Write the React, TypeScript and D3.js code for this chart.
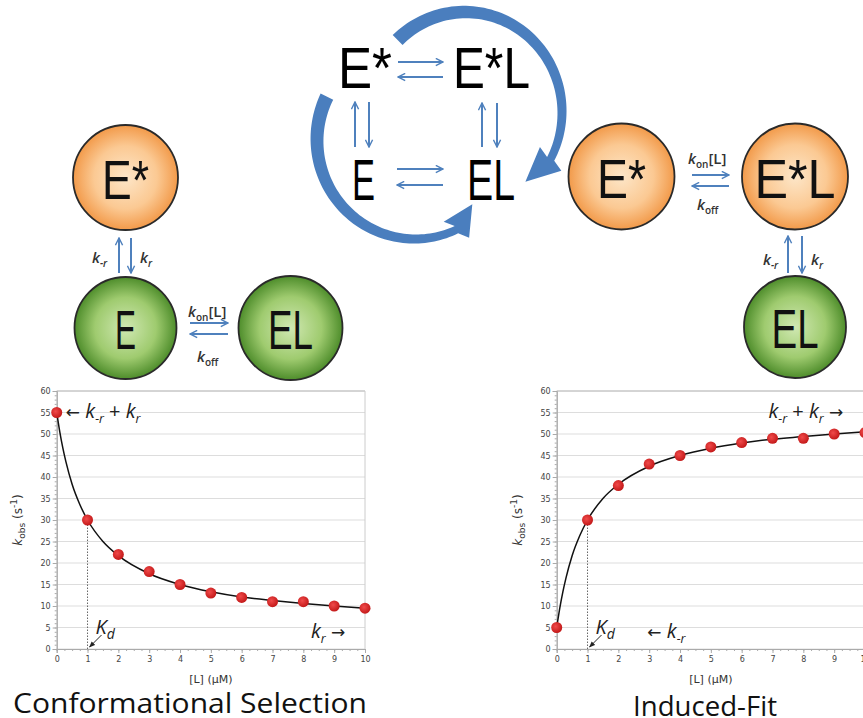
import React, { useEffect, useRef } from "react";
import * as d3 from "d3";

// ligand concentration [L] (µM) and observed rates k_obs (s^-1)
const concentrations = [0, 1, 2, 3, 4, 5, 6, 7, 8, 9, 10];
const selectionRates = [55, 30, 22, 18, 15, 13, 12, 11, 11, 10, 9.5];
const inducedRates = [5, 30, 38, 43, 45, 47, 48, 49, 49, 50, 50.3];

// fitted curves
const fitConcentrations = [0, 0.1, 0.2, 0.3, 0.5, 0.75, 1, 1.5, 2, 3, 4, 5, 6, 7, 8, 9, 10];
const selectionFit = [55, 50.5, 46.7, 43.5, 38.3, 33.6, 30, 25, 21.7, 17.5, 15, 13.3, 12.1, 11.3, 10.6, 10, 9.5];
const inducedFit = [5, 9.5, 13.3, 16.5, 21.7, 26.4, 30, 35, 38.3, 42.5, 45, 46.7, 47.9, 48.8, 49.4, 50, 50.5];

const yTicks = [0, 5, 10, 15, 20, 25, 30, 35, 40, 45, 50, 55, 60];
const xTicks = concentrations;

const BLUE = "#4f81bd";
const ARC_BLUE = "#4a7ebe";
const SANS = "'Liberation Sans', Arial, sans-serif";
const ROUND = "'Open Sans', 'DejaVu Sans', sans-serif";

// thick curved arrow along an ellipse, tapering, with a turned head
function bigArrow(cx, cy, rx, ry, a0, a1, w0, w1, headDeg, headLen, headW) {
  const rad = (d) => (d * Math.PI) / 180;
  const outer = [];
  const inner = [];
  const n = 80;
  for (let i = 0; i <= n; i++) {
    const t = i / n;
    const a = rad(a0 + (a1 - a0) * t);
    const w = w0 + (w1 - w0) * t;
    const px = cx + rx * Math.cos(a);
    const py = cy + ry * Math.sin(a);
    let nx = Math.cos(a) / rx;
    let ny = Math.sin(a) / ry;
    const l = Math.hypot(nx, ny);
    nx /= l;
    ny /= l;
    outer.push([px + (nx * w) / 2, py + (ny * w) / 2]);
    inner.push([px - (nx * w) / 2, py - (ny * w) / 2]);
  }
  const e = rad(a1);
  const P = [cx + rx * Math.cos(e), cy + ry * Math.sin(e)];
  const h = rad(headDeg);
  const d = [Math.cos(h), Math.sin(h)];
  const p = [-d[1], d[0]];
  const b1 = [P[0] + (p[0] * headW) / 2, P[1] + (p[1] * headW) / 2];
  const b2 = [P[0] - (p[0] * headW) / 2, P[1] - (p[1] * headW) / 2];
  const tip = [P[0] + d[0] * headLen, P[1] + d[1] * headLen];
  const oEnd = outer[outer.length - 1];
  const nearOuter = Math.hypot(b1[0] - oEnd[0], b1[1] - oEnd[1]) < Math.hypot(b2[0] - oEnd[0], b2[1] - oEnd[1]);
  const [bo, bi] = nearOuter ? [b1, b2] : [b2, b1];
  const pts = [...outer, bo, tip, bi, ...inner.reverse()];
  return d3.line()(pts) + "Z";
}

function ThinArrow({ x1, y1, x2, y2 }) {
  return (
    <line x1={x1} y1={y1} x2={x2} y2={y2} stroke={BLUE} strokeWidth={2} markerEnd="url(#thinHead)" />
  );
}

function Species({ cx, cy, r, label, kind, width }) {
  return (
    <g>
      <circle cx={cx} cy={cy} r={r} fill={`url(#${kind}Grad)`} stroke="#2a2a2a" strokeWidth={1.8} />
      <text
        x={cx}
        y={cy + 21}
        textAnchor="middle"
        fontFamily={SANS}
        fontSize={56}
        textLength={width}
        lengthAdjust="spacingAndGlyphs"
        fill="#111"
      >
        {label}
      </text>
    </g>
  );
}

function RateLabel({ x, y, sub, tail = "", italicSub = true }) {
  return (
    <text x={x} y={y} fontFamily={ROUND} fontSize={15} fontStyle="italic" fontWeight={600} fill="#333">
      k
      <tspan fontSize={10} dy={4} fontStyle={italicSub ? "italic" : "normal"}>{sub}</tspan>
      {tail ? (
        <tspan fontStyle="normal" dy={-4}>
          {tail}
        </tspan>
      ) : null}
    </text>
  );
}

function RateChart({ left, rates, fit, title, titleX, titleY, titleWidth, annotate }) {
  const axisRef = useRef(null);
  const x = d3.scaleLinear().domain([0, 10]).range([left, left + 308.3]);
  const y = d3.scaleLinear().domain([0, 60]).range([649, 391]);

  useEffect(() => {
    const g = d3.select(axisRef.current);
    g.select(".y-minor").call(
      d3.axisLeft(y).tickValues(d3.range(0, 60.1, 1)).tickSize(2).tickFormat(() => "")
    );
    g.select(".x-minor").call(
      d3.axisBottom(x).tickValues(d3.range(0, 10.01, 0.25)).tickSize(2).tickFormat(() => "")
    );
    g.select(".y-axis").call(d3.axisLeft(y).tickValues(yTicks).tickSize(4).tickPadding(2));
    g.select(".x-axis").call(d3.axisBottom(x).tickValues(xTicks).tickSize(4).tickPadding(3));
    g.selectAll(".domain").attr("stroke", "#aaa");
    g.selectAll(".tick line").attr("stroke", "#aaa");
    g.selectAll(".tick text")
      .attr("font-size", 8)
      .attr("fill", "#444")
      .attr("font-family", "'DejaVu Sans', sans-serif");
  }, [left]);

  const fitLine = d3
    .line()
    .x((d) => x(d[0]))
    .y((d) => y(d[1]))
    .curve(d3.curveMonotoneX);

  return (
    <g>
      {yTicks.map((t) => (
        <line key={t} x1={x(0)} x2={x(10)} y1={y(t)} y2={y(t)} stroke={t === 60 ? "#aaa" : "#ddd"} strokeWidth={1} />
      ))}
      <line x1={x(10)} x2={x(10)} y1={y(0)} y2={y(60)} stroke="#ccc" />
      <g ref={axisRef}>
        <g className="y-minor" transform={`translate(${x(0)},0)`} />
        <g className="x-minor" transform={`translate(0,${y(0)})`} />
        <g className="y-axis" transform={`translate(${x(0)},0)`} />
        <g className="x-axis" transform={`translate(0,${y(0)})`} />
      </g>
      <line x1={x(1)} x2={x(1)} y1={y(0)} y2={y(30)} stroke="#666" strokeDasharray="1.5,1.5" />
      <path
        d={fitLine(fitConcentrations.map((c, i) => [c, fit[i]]))}
        fill="none"
        stroke="#111"
        strokeWidth={1.5}
      />
      {concentrations.map((c, i) => (
        <circle key={c} cx={x(c)} cy={y(rates[i])} r={5.5} fill="url(#dotGrad)" />
      ))}
      <text x={x(5)} y={683} textAnchor="middle" fontFamily="'DejaVu Sans', sans-serif" fontSize={11} fill="#333">
        [L] (µM)
      </text>
      <text
        transform={`translate(${left - 35},${y(30)}) rotate(-90)`}
        textAnchor="middle"
        fontFamily="'DejaVu Sans', sans-serif"
        fontSize={12}
        fill="#333"
      >
        <tspan fontStyle="italic">k</tspan>
        <tspan fontSize={9} dy={3}>obs</tspan>
        <tspan dy={-3}> (s</tspan>
        <tspan fontSize={9} dy={-5}>-1</tspan>
        <tspan dy={5}>)</tspan>
      </text>
      {/* K_d marker */}
      <text x={x(1) + 8} y={y(5) + 6} fontFamily={ROUND} fontSize={20} fontStyle="italic" fill="#222">
        K<tspan fontSize={14} dy={5}>d</tspan>
      </text>
      <line x1={x(1) + 14} y1={y(0) - 14} x2={x(1) + 2} y2={y(0) - 2} stroke="#222" strokeWidth={1} markerEnd="url(#smallHead)" />
      {annotate(x, y)}
      <text
        x={titleX}
        y={titleY}
        textAnchor="middle"
        fontFamily={ROUND}
        fontSize={28}
        fill="#111"
        textLength={titleWidth}
        lengthAdjust="spacingAndGlyphs"
      >
        {title}
      </text>
    </g>
  );
}

function KText({ x, y, parts, size = 20 }) {
  // parts: [text, kind] where kind k = italic k, s = subscript, a = arrow, n = plain
  return (
    <text x={x} y={y} fontFamily={ROUND} fontSize={size} fontStyle="italic" fill="#222">
      {parts.map(([t, kind], i) => {
        const prev = i > 0 ? parts[i - 1][1] : "n";
        let dy = 0;
        if (kind === "s" && prev !== "s") dy = 5;
        if (kind !== "s" && prev === "s") dy = -5;
        return (
          <tspan
            key={i}
            dy={dy}
            fontSize={kind === "s" ? size * 0.62 : kind === "a" ? size * 0.85 : size}
            fontStyle={kind === "k" || kind === "s" ? "italic" : "normal"}
            fontFamily={kind === "a" ? "'DejaVu Sans', sans-serif" : ROUND}
          >
            {t}
          </tspan>
        );
      })}
    </text>
  );
}

export default function App() {
  const arc1 = bigArrow(465, 112, 97, 100, -134, 28, 14, 8, 138, 34, 32);
  const arc2 = bigArrow(415, 140, 98, 99, 206, 65, 14, 8, -58, 30, 30);

  return (
    <svg width={863} height={718} style={{ position: "absolute", left: 0, top: 0, background: "#fff" }}>
      <defs>
        <radialGradient id="orangeGrad" cx="50%" cy="50%" r="50%">
          <stop offset="0%" stopColor="#fde6c8" />
          <stop offset="60%" stopColor="#fbc993" />
          <stop offset="100%" stopColor="#f29a4a" />
        </radialGradient>
        <radialGradient id="greenGrad" cx="50%" cy="50%" r="50%">
          <stop offset="0%" stopColor="#d0e8b2" />
          <stop offset="60%" stopColor="#9fcb6f" />
          <stop offset="100%" stopColor="#4e8d2b" />
        </radialGradient>
        <radialGradient id="dotGrad" cx="40%" cy="40%" r="60%">
          <stop offset="0%" stopColor="#f04a4a" />
          <stop offset="100%" stopColor="#c41a1a" />
        </radialGradient>
        <marker id="thinHead" viewBox="0 0 10 10" refX={9} refY={5} markerWidth={9} markerHeight={9} markerUnits="userSpaceOnUse" orient="auto">
          <path d="M1,1 L9,5 L1,9" fill="none" stroke={BLUE} strokeWidth={1.6} />
        </marker>
        <marker id="smallHead" viewBox="0 0 10 10" refX={9} refY={5} markerWidth={6} markerHeight={6} markerUnits="userSpaceOnUse" orient="auto">
          <path d="M0,1 L10,5 L0,9 Z" fill="#222" />
        </marker>
      </defs>

      {/* central scheme */}
      <path d={arc1} fill={ARC_BLUE} />
      <path d={arc2} fill={ARC_BLUE} />
      <text x={365} y={88} textAnchor="middle" fontFamily={SANS} fontSize={58} textLength={54} lengthAdjust="spacingAndGlyphs" fill="#000">E*</text>
      <text x={491.5} y={88} textAnchor="middle" fontFamily={SANS} fontSize={58} textLength={77} lengthAdjust="spacingAndGlyphs" fill="#000">E*L</text>
      <text x={363.5} y={200} textAnchor="middle" fontFamily={SANS} fontSize={58} textLength={23} lengthAdjust="spacingAndGlyphs" fill="#000">E</text>
      <text x={491} y={200} textAnchor="middle" fontFamily={SANS} fontSize={58} textLength={48} lengthAdjust="spacingAndGlyphs" fill="#000">EL</text>
      <ThinArrow x1={398} y1={62} x2={443} y2={62} />
      <ThinArrow x1={443} y1={77} x2={398} y2={77} />
      <ThinArrow x1={397} y1={169} x2={443} y2={169} />
      <ThinArrow x1={443} y1={185} x2={397} y2={185} />
      <ThinArrow x1={355} y1={147} x2={355} y2={102} />
      <ThinArrow x1={369} y1={102} x2={369} y2={147} />
      <ThinArrow x1={482} y1={147} x2={482} y2={103} />
      <ThinArrow x1={497} y1={103} x2={497} y2={147} />

      {/* conformational selection scheme */}
      <Species cx={125.5} cy={177.5} r={52.5} label="E*" kind="orange" width={47} />
      <Species cx={125.5} cy={328} r={51} label="E" kind="green" width={21} />
      <Species cx={290.5} cy={328} r={52} label="EL" kind="green" width={45} />
      <ThinArrow x1={119} y1={273} x2={119} y2={238} />
      <ThinArrow x1={131} y1={238} x2={131} y2={273} />
      <RateLabel x={92} y={263} sub="-r" />
      <RateLabel x={140} y={263} sub="r" />
      <ThinArrow x1={190} y1={323} x2={228} y2={323} />
      <ThinArrow x1={228} y1={334} x2={190} y2={334} />
      <RateLabel x={188} y={317} sub="on" tail="[L]" italicSub={false} />
      <RateLabel x={197} y={362} sub="off" italicSub={false} />

      {/* induced-fit scheme */}
      <Species cx={621.5} cy={176.5} r={53} label="E*" kind="orange" width={49} />
      <Species cx={795} cy={176.5} r={53} label="E*L" kind="orange" width={81} />
      <Species cx={795} cy={327} r={51} label="EL" kind="green" width={47} />
      <ThinArrow x1={692} y1={175} x2={729} y2={175} />
      <ThinArrow x1={729} y1={186} x2={692} y2={186} />
      <RateLabel x={688} y={164} sub="on" tail="[L]" italicSub={false} />
      <RateLabel x={697} y={210} sub="off" italicSub={false} />
      <ThinArrow x1={788} y1={273} x2={788} y2={236} />
      <ThinArrow x1={802} y1={236} x2={802} y2={273} />
      <RateLabel x={763} y={265} sub="-r" />
      <RateLabel x={811} y={265} sub="r" />

      <RateChart
        left={56.7}
        rates={selectionRates}
        fit={selectionFit}
        title="Conformational Selection"
        titleX={190}
        titleY={713}
        titleWidth={354}
        annotate={(x, y) => (
          <g>
            <KText x={x(0) + 9} y={y(55) + 5} parts={[["← ", "a"], ["k", "k"], ["-r", "s"], [" + ", "n"], ["k", "k"], ["r", "s"]]} />
            <KText x={x(10) - 54} y={y(5) + 10} parts={[["k", "k"], ["r", "s"], [" →", "a"]]} />
          </g>
        )}
      />
      <RateChart
        left={556.7}
        rates={inducedRates}
        fit={inducedFit}
        title="Induced-Fit"
        titleX={705}
        titleY={716}
        titleWidth={144}
        annotate={(x, y) => (
          <g>
            <KText x={x(7) - 4} y={y(55) + 5} parts={[["k", "k"], ["-r", "s"], [" + ", "n"], ["k", "k"], ["r", "s"], [" →", "a"]]} />
            <KText x={x(3) - 2} y={y(5) + 10} parts={[["← ", "a"], ["k", "k"], ["-r", "s"]]} />
          </g>
        )}
      />
    </svg>
  );
}
